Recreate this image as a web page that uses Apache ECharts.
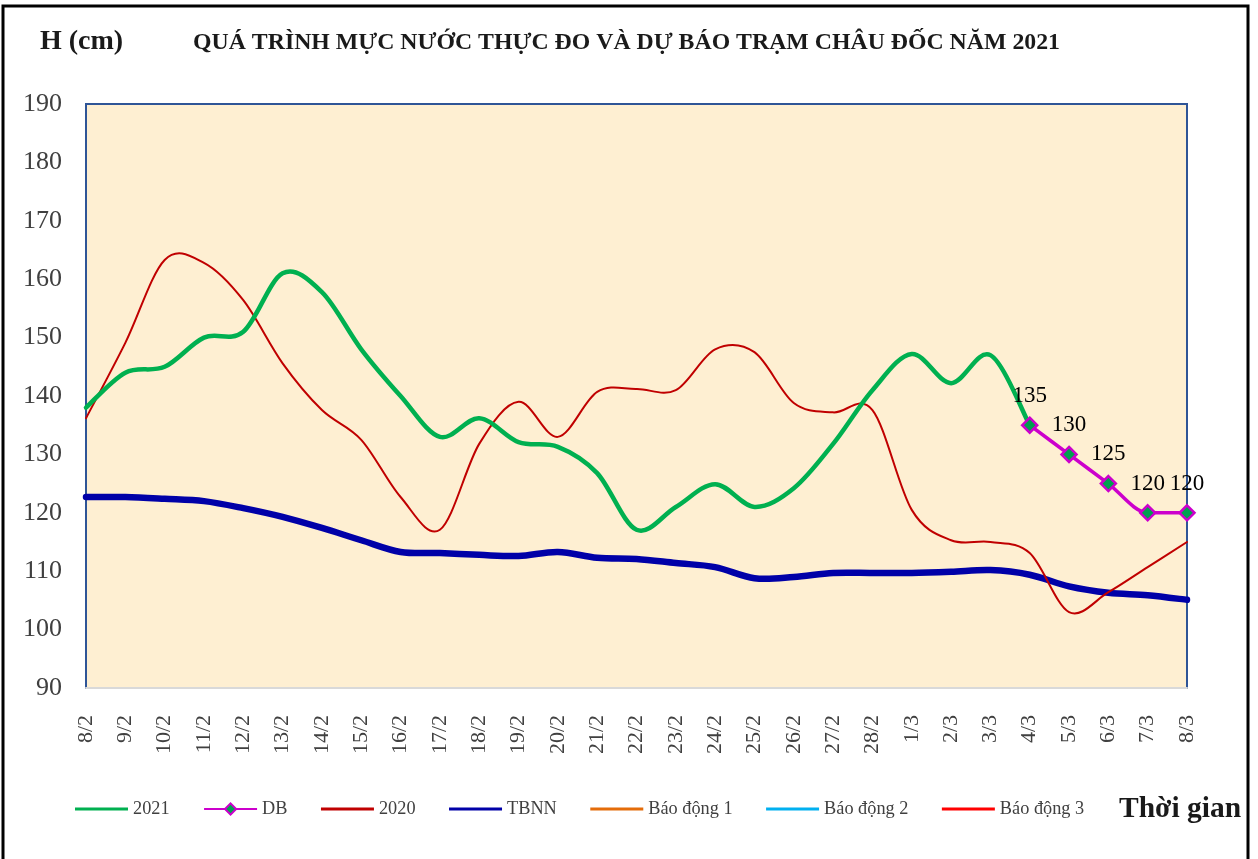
<!DOCTYPE html>
<html><head><meta charset="utf-8">
<script src="https://cdn.jsdelivr.net/npm/echarts@6/dist/echarts.min.js"></script>
<style>html,body{margin:0;padding:0;background:#fff}#c{width:1258px;height:859px}</style>
</head><body><div id="c"></div>
<script>
const categories = ['8/2','9/2','10/2','11/2','12/2','13/2','14/2','15/2','16/2','17/2','18/2','19/2','20/2','21/2','22/2','23/2','24/2','25/2','26/2','27/2','28/2','1/3','2/3','3/3','4/3','5/3','6/3','7/3','8/3'];
const s2021 = [138,144,145,150,151,161,157.8,148,140,133,136.2,132.1,131.3,126.8,117.1,121,124.9,121,124.2,131.8,141,147.2,142.2,147,135,null,null,null,null];
const sDB = [null,null,null,null,null,null,null,null,null,null,null,null,null,null,null,null,null,null,null,null,null,null,null,null,135,130,125,120,120];
const s2020 = [136.2,149.1,163.3,162.8,156.4,145.6,137.6,132.5,122.7,117.1,131.8,139,133,140.7,141.2,141,148,147.5,138.8,137.2,137.6,120.5,115.3,115,113.1,103,106.4,110.7,115];
const sTBNN = [122.7,122.7,122.4,122,120.8,119.3,117.4,115.3,113.3,113.1,112.8,112.6,113.3,112.3,112.1,111.4,110.7,108.8,109,109.7,109.7,109.7,109.9,110.2,109.4,107.4,106.3,105.9,105.1];
const sBD1 = [];
const sBD2 = [];
const sBD3 = [];
const yTicks = {min:90, max:190, interval:10};

const chart = echarts.init(document.getElementById('c'));
const serif = '"Liberation Serif","Times New Roman",serif';
const lineIcon = 'path://M0,0H60V3.4H0Z';

// Smooth line drawn through the axes' scales (Catmull-Rom, like a spreadsheet "smoothed line")
function smoothLine(name, data, color, width, z) {
  return {
    name, type:'custom', z, clip:false,
    data: data.map((v,i)=>[i, v==null ? '-' : v]),
    encode:{x:0,y:1},
    itemStyle:{color},
    renderItem(params, api){
      if (params.dataIndex !== 0) return null;
      const pts = [];
      data.forEach((v,i)=>{ if (v!=null) pts.push(api.coord([i,v])); });
      if (pts.length < 2) return null;
      let d = 'M' + pts[0][0] + ',' + pts[0][1];
      const t = 1/6;
      for (let i=0;i<pts.length-1;i++){
        const p0=pts[Math.max(i-1,0)], p1=pts[i], p2=pts[i+1], p3=pts[Math.min(i+2,pts.length-1)];
        const c1=[p1[0]+(p2[0]-p0[0])*t, p1[1]+(p2[1]-p0[1])*t];
        const c2=[p2[0]-(p3[0]-p1[0])*t, p2[1]-(p3[1]-p1[1])*t];
        d += ' C' + c1[0]+','+c1[1]+' '+c2[0]+','+c2[1]+' '+p2[0]+','+p2[1];
      }
      return {type:'path', shape:{pathData:d}, silent:true,
        style:{fill:'none', stroke:color, lineWidth:width, lineJoin:'round', lineCap:'round'}};
    }
  };
}

chart.setOption({
  animation:false,
  backgroundColor:'#fff',
  graphic:[
    {type:'rect',shape:{x:3,y:6,width:1245,height:870},style:{fill:'none',stroke:'#000',lineWidth:3},z:-1},
    {type:'text',left:40,top:28,style:{text:'H (cm)',font:'bold 28px '+serif,fill:'#1a1a1a'}},
    {type:'text',left:193,top:31,style:{text:'QUÁ TRÌNH MỰC NƯỚC THỰC ĐO VÀ DỰ BÁO TRẠM CHÂU ĐỐC NĂM 2021',font:'bold 23.8px '+serif,fill:'#1a1a1a'}},
    {type:'text',left:1119,top:794,style:{text:'Thời gian',font:'bold 29.5px '+serif,fill:'#1a1a1a'}}
  ],
  legend:{
    left:70, top:795, itemWidth:53, itemHeight:14, itemGap:33.5,
    textStyle:{fontFamily:serif,fontSize:18.3,color:'#404040'},
    data:[
      {name:'2021',icon:lineIcon},
      {name:'DB'},
      {name:'2020',icon:lineIcon},
      {name:'TBNN',icon:lineIcon},
      {name:'Báo động 1',icon:lineIcon},
      {name:'Báo động 2',icon:lineIcon},
      {name:'Báo động 3',icon:lineIcon}
    ]
  },
  grid:{left:86,right:71,top:104,bottom:171,show:true,backgroundColor:'#FEEFD2',borderColor:'#2F5597',borderWidth:2},
  xAxis:{
    type:'category',data:categories,boundaryGap:false,
    axisLine:{show:true,lineStyle:{color:'#D9D9D9',width:2}},
    axisTick:{show:false},
    axisLabel:{rotate:90,margin:27,fontFamily:serif,fontSize:22,color:'#404040',interval:0}
  },
  yAxis:{
    type:'value',min:yTicks.min,max:yTicks.max,interval:yTicks.interval,
    splitLine:{show:false},
    axisLine:{show:true,lineStyle:{color:'#2F5597',width:2}},
    axisTick:{show:false},
    axisLabel:{margin:24,fontFamily:serif,fontSize:26,color:'#404040'}
  },
  series:[
    smoothLine('2021', s2021, '#00B050', 4.5, 4),
    {name:'DB',type:'line',data:sDB,smooth:0.3,symbol:'diamond',symbolSize:15,showAllSymbol:true,
      lineStyle:{color:'#CC00CC',width:3.5},itemStyle:{color:'#00A050',borderColor:'#CC00CC',borderWidth:2.5},
      label:{show:true,position:'top',distance:9,fontFamily:serif,fontSize:23,color:'#000'},z:5},
    smoothLine('2020', s2020, '#C00000', 2, 3),
    smoothLine('TBNN', sTBNN, '#0000A8', 6.5, 2),
    {name:'Báo động 1',type:'line',data:sBD1,symbol:'none',lineStyle:{color:'#E46C0A',width:3},itemStyle:{color:'#E46C0A'}},
    {name:'Báo động 2',type:'line',data:sBD2,symbol:'none',lineStyle:{color:'#00B0F0',width:3},itemStyle:{color:'#00B0F0'}},
    {name:'Báo động 3',type:'line',data:sBD3,symbol:'none',lineStyle:{color:'#FF0000',width:3},itemStyle:{color:'#FF0000'}}
  ]
});
</script></body></html>
